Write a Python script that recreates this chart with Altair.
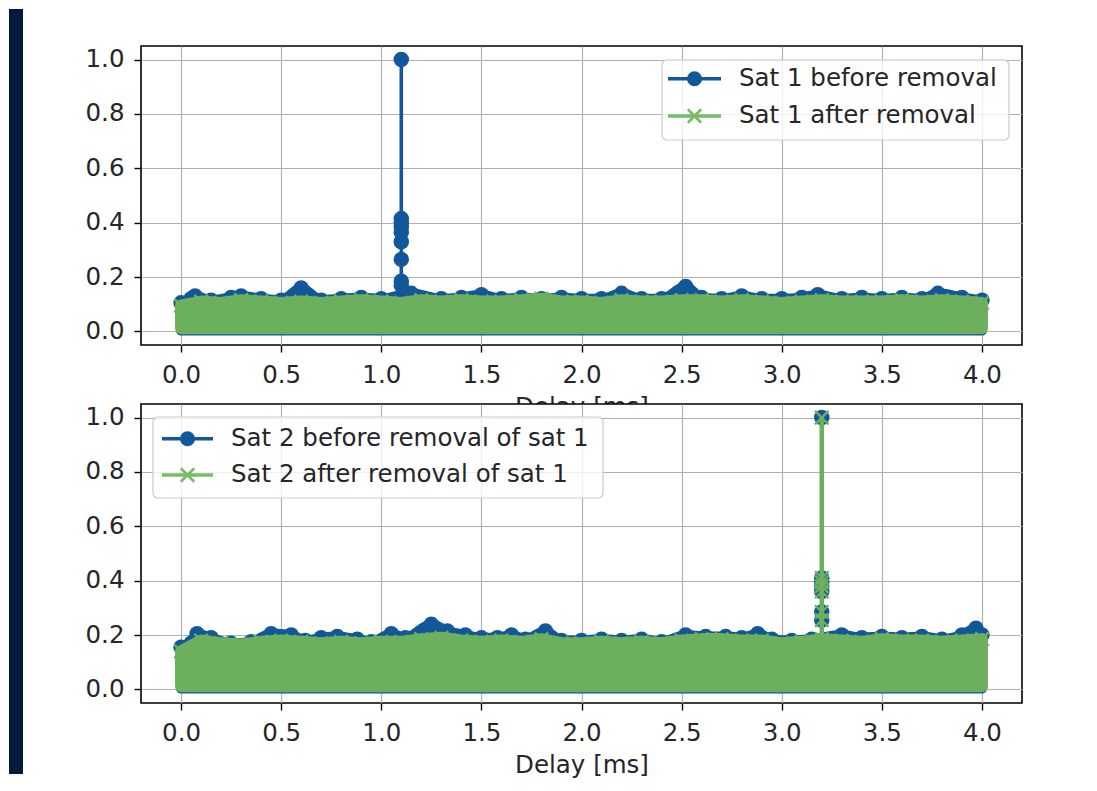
import altair as alt
import pandas as pd

# ---------------- data ----------------
X_TICKS = [0.0, 0.5, 1.0, 1.5, 2.0, 2.5, 3.0, 3.5, 4.0]
Y_TICKS = [0.0, 0.2, 0.4, 0.6, 0.8, 1.0]

# Panel 1 : Sat 1
top_blue_x = [0.00, 0.05, 0.07, 0.15, 0.25, 0.30, 0.40, 0.50, 0.60, 0.70, 0.80, 0.90,
              1.00, 1.15, 1.30, 1.40, 1.50, 1.60, 1.70, 1.80, 1.90, 2.00, 2.10, 2.20,
              2.30, 2.40, 2.52, 2.60, 2.70, 2.80, 2.90, 3.00, 3.10, 3.18, 3.30, 3.40,
              3.50, 3.60, 3.70, 3.78, 3.90, 4.00]
top_blue_y = [0.105, 0.120, 0.130, 0.115, 0.125, 0.130, 0.120, 0.115, 0.160, 0.115, 0.120, 0.125,
              0.120, 0.140, 0.120, 0.125, 0.135, 0.120, 0.125, 0.120, 0.125, 0.120, 0.120, 0.140,
              0.120, 0.120, 0.165, 0.125, 0.120, 0.130, 0.120, 0.120, 0.125, 0.135, 0.120, 0.125,
              0.120, 0.125, 0.120, 0.140, 0.125, 0.115]
top_green_x = [0.0, 0.1, 0.2, 0.3, 0.4, 0.5, 0.6, 0.7, 0.8, 0.9, 1.0, 1.1, 1.2, 1.3,
               1.4, 1.5, 1.6, 1.7, 1.8, 1.9, 2.0, 2.1, 2.2, 2.3, 2.4, 2.5, 2.6, 2.7,
               2.8, 2.9, 3.0, 3.1, 3.2, 3.3, 3.4, 3.5, 3.6, 3.7, 3.8, 3.9, 4.0]
top_green_y = [0.095, 0.110, 0.105, 0.115, 0.110, 0.105, 0.110, 0.105, 0.110, 0.115, 0.110, 0.105,
               0.115, 0.110, 0.115, 0.110, 0.110, 0.115, 0.120, 0.110, 0.110, 0.105, 0.115, 0.110,
               0.110, 0.115, 0.115, 0.110, 0.115, 0.110, 0.105, 0.110, 0.115, 0.110, 0.110, 0.110,
               0.115, 0.110, 0.115, 0.110, 0.105]
top_spike_x = 1.1
top_spike_blue = [1.0, 0.415, 0.40, 0.385, 0.365, 0.33, 0.265, 0.185, 0.17]
top_spike_green = []

# Panel 2 : Sat 2
bot_blue_x = [0.00, 0.05, 0.08, 0.15, 0.25, 0.35, 0.45, 0.55, 0.62, 0.70, 0.78, 0.88,
              0.95, 1.05, 1.12, 1.25, 1.33, 1.42, 1.50, 1.58, 1.65, 1.72, 1.82, 1.90,
              2.00, 2.10, 2.20, 2.30, 2.40, 2.52, 2.62, 2.72, 2.80, 2.88, 2.95, 3.05,
              3.15, 3.30, 3.40, 3.50, 3.60, 3.70, 3.80, 3.90, 3.97, 4.00]
bot_blue_y = [0.155, 0.170, 0.205, 0.190, 0.170, 0.175, 0.205, 0.200, 0.180, 0.190, 0.195, 0.185,
              0.175, 0.205, 0.190, 0.240, 0.215, 0.200, 0.190, 0.190, 0.200, 0.185, 0.215, 0.180,
              0.180, 0.185, 0.180, 0.185, 0.175, 0.200, 0.195, 0.195, 0.190, 0.205, 0.185, 0.180,
              0.185, 0.200, 0.190, 0.195, 0.190, 0.195, 0.185, 0.200, 0.225, 0.200]
bot_green_x = [0.0, 0.1, 0.2, 0.3, 0.4, 0.5, 0.6, 0.7, 0.8, 0.9, 1.0, 1.1, 1.2, 1.3,
               1.4, 1.5, 1.6, 1.7, 1.8, 1.9, 2.0, 2.1, 2.2, 2.3, 2.4, 2.5, 2.6, 2.7,
               2.8, 2.9, 3.0, 3.1, 3.2, 3.3, 3.4, 3.5, 3.6, 3.7, 3.8, 3.9, 4.0]
bot_green_y = [0.140, 0.180, 0.170, 0.165, 0.175, 0.180, 0.175, 0.170, 0.175, 0.170, 0.175, 0.175,
               0.185, 0.190, 0.180, 0.175, 0.180, 0.175, 0.185, 0.170, 0.170, 0.175, 0.170, 0.175,
               0.170, 0.180, 0.185, 0.185, 0.180, 0.180, 0.170, 0.175, 0.185, 0.180, 0.175, 0.185,
               0.180, 0.180, 0.175, 0.180, 0.185]
bot_spike_x = 3.2
bot_spike_blue = [1.0, 0.41, 0.395, 0.38, 0.36, 0.285, 0.255]
bot_spike_green = [1.0, 0.41, 0.395, 0.38, 0.36, 0.285, 0.255]

blue_floor = 0.003
green_floor = 0.012

top_labels = ["Sat 1 before removal", "Sat 1 after removal"]
bot_labels = ["Sat 2 before removal of sat 1", "Sat 2 after removal of sat 1"]
x_title = "Delay [ms]"

# ---------------- styles ----------------
BLUE = "#13579b"
GREEN = "#6cb05e"
GREEN_LEG = "#78bb69"
NAVY = "#021a3e"
TXT = "#262626"
FONT = "DejaVu Sans"
FS = 24.5
XPATH = "M-1,-1L1,1M-1,1L1,-1"

xs = alt.Scale(domain=[-0.2, 4.2], nice=False, zero=False)
ys = alt.Scale(domain=[-0.05, 1.05], nice=False, zero=False)

X = alt.X("x:Q", scale=xs,
          axis=alt.Axis(values=X_TICKS, format=".1f", title=x_title, labelPadding=11,
                        titlePadding=9, labelFlush=False, labelOverlap=False))
Y = alt.Y("y:Q", scale=ys,
          axis=alt.Axis(values=Y_TICKS, format=".1f", title=None, labelPadding=10,
                        labelFlush=False, labelOverlap=False))


def one():
    return pd.DataFrame({"k": [0]})


def legend_layers(labels, box, rows, line_x, text_x):
    x0, x1, y0, y1 = box
    layers = [
        alt.Chart(one()).mark_rect(fill="white", fillOpacity=0.8, stroke="#cccccc",
                                   strokeWidth=1.2, cornerRadius=5).encode(
            x=alt.value(x0), x2=alt.value(x1), y=alt.value(y0), y2=alt.value(y1))
    ]
    cols = [BLUE, GREEN_LEG]
    for i, lab in enumerate(labels):
        yy = rows[i]
        layers.append(alt.Chart(one()).mark_rule(color=cols[i], strokeWidth=3.6).encode(
            x=alt.value(line_x[0]), x2=alt.value(line_x[1]), y=alt.value(yy)))
        cx = (line_x[0] + line_x[1]) / 2
        if i == 0:
            layers.append(alt.Chart(one()).mark_circle(color=BLUE, size=225, opacity=1).encode(
                x=alt.value(cx), y=alt.value(yy)))
        else:
            layers.append(alt.Chart(one()).mark_point(shape=XPATH, filled=False, color=GREEN_LEG,
                                                      strokeWidth=2.6, size=180, opacity=1).encode(
                x=alt.value(cx), y=alt.value(yy)))
        layers.append(alt.Chart(pd.DataFrame({"label": [lab]})).mark_text(
            align="left", baseline="middle", font=FONT, fontSize=FS, color=TXT).encode(
            x=alt.value(text_x), y=alt.value(yy), text="label:N"))
    return layers


def panel(bx, by, gx, gy, sx, sblue, sgreen, legend, strip=False):
    bdf = pd.DataFrame({"x": bx, "y": by, "lo": [blue_floor] * len(bx)})
    gdf = pd.DataFrame({"x": gx, "y": gy, "lo": [green_floor] * len(gx)})
    layers = []
    if strip:
        layers.append(alt.Chart(one()).mark_rect(color=NAVY).encode(
            x=alt.value(-132), x2=alt.value(-118), y=alt.value(-37), y2=alt.value(728)))
    layers += [
        alt.Chart(bdf).mark_area(color=BLUE, stroke=BLUE, strokeWidth=10, strokeJoin="round",
                                 interpolate="monotone", opacity=1).encode(
            x=X, y=Y, y2=alt.Y2("lo:Q")),
        alt.Chart(bdf).mark_circle(color=BLUE, size=240, opacity=1).encode(x=X, y=Y),
    ]
    sb = pd.DataFrame({"x": [sx] * len(sblue), "y": sblue})
    layers += [
        alt.Chart(pd.DataFrame({"x": [sx], "y": [min(sblue)], "y2": [max(sblue)]})).mark_rule(
            color=BLUE, strokeWidth=3.6).encode(x=X, y=Y, y2=alt.Y2("y2:Q")),
        alt.Chart(sb).mark_circle(color=BLUE, size=240, opacity=1).encode(x=X, y=Y),
    ]
    layers += [
        alt.Chart(gdf).mark_area(color=GREEN, stroke=GREEN, strokeWidth=12, strokeJoin="round",
                                 opacity=1).encode(x=X, y=Y, y2=alt.Y2("lo:Q")),
        alt.Chart(gdf).mark_point(shape=XPATH, filled=False, color=GREEN, strokeWidth=2.4,
                                  size=180, opacity=1).encode(x=X, y=Y),
    ]
    if sgreen:
        sg = pd.DataFrame({"x": [sx] * len(sgreen), "y": sgreen})
        layers += [
            alt.Chart(pd.DataFrame({"x": [sx], "y": [0.18], "y2": [max(sgreen)]})).mark_rule(
                color=GREEN, strokeWidth=4.5).encode(x=X, y=Y, y2=alt.Y2("y2:Q")),
            alt.Chart(sg).mark_point(shape=XPATH, filled=False, color=GREEN, strokeWidth=2.4,
                                     size=180, opacity=1).encode(x=X, y=Y),
        ]
    layers += legend
    return alt.layer(*layers).properties(width=881, height=299)


top = panel(top_blue_x, top_blue_y, top_green_x, top_green_y, top_spike_x,
            top_spike_blue, top_spike_green,
            legend_layers(top_labels, (521, 868, 14, 94), [32.7, 70], (527, 580), 598),
            strip=True)
bottom = panel(bot_blue_x, bot_blue_y, bot_green_x, bot_green_y, bot_spike_x,
               bot_spike_blue, bot_spike_green,
               legend_layers(bot_labels, (12, 462, 13, 94), [34.7, 71], (21, 72), 90))

chart = alt.vconcat(top, bottom, spacing=59, bounds="flush").properties(
    padding=0, background="white"
).configure_view(
    stroke="black", strokeWidth=1.6, fill="white"
).configure_axis(
    labelFont=FONT, labelFontSize=FS, labelColor=TXT,
    titleFont=FONT, titleFontSize=FS, titleColor=TXT, titleFontWeight="normal",
    grid=True, gridColor="#b0b0b0", gridWidth=1.2,
    tickColor="black", tickWidth=1.4, tickSize=7, domain=False
)

chart.save("out.html", embed_options={"renderer": "svg", "actions": False})
